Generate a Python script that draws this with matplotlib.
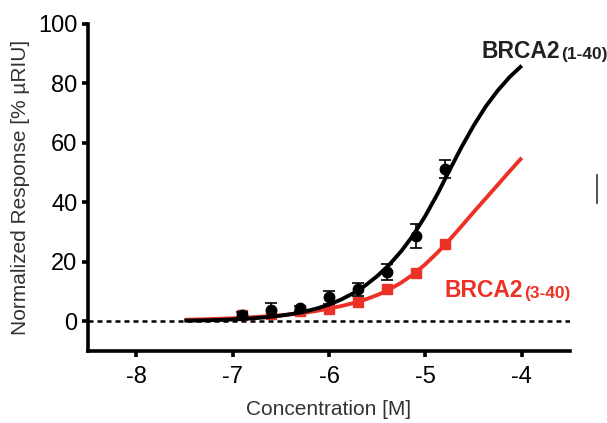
#!/usr/bin/env python3

import matplotlib
matplotlib.use("Agg")
import matplotlib.pyplot as plt
from matplotlib.lines import Line2D

plt.rcParams["font.family"] = ["Liberation Sans", "DejaVu Sans"]

# Messpunkte (log Konzentration [M])
conc = [-6.9, -6.6, -6.3, -6.0, -5.7, -5.4, -5.1, -4.8]

# BRCA2(1-40): Mittelwert und Fehler
resp_1_40 = [2.1, 3.8, 4.3, 8.0, 10.7, 16.5, 28.6, 51.3]
err_1_40 = [1.0, 2.2, 0.8, 2.2, 2.2, 2.6, 4.0, 3.0]

# BRCA2(3-40)
resp_3_40 = [2.2, 2.6, 3.4, 4.2, 6.6, 10.7, 16.1, 26.1]

# Fit-Kurven
fit_x = [-7.5, -7.375, -7.25, -7.125, -7.0, -6.875, -6.75, -6.625, -6.5,
         -6.375, -6.25, -6.125, -6.0, -5.875, -5.75, -5.625, -5.5, -5.375,
         -5.25, -5.125, -5.0, -4.875, -4.75, -4.625, -4.5, -4.375, -4.25,
         -4.125, -4.0]
fit_1_40 = [0.2, 0.26, 0.35, 0.46, 0.61, 0.82, 1.08, 1.44, 1.9,
            2.5, 3.3, 4.3, 5.6, 7.3, 9.4, 12.0, 15.2, 19.0,
            23.6, 29.0, 35.5, 42.8, 50.8, 58.6, 65.8, 72.2, 77.6,
            82.2, 86.0]
fit_3_40 = [0.5, 0.6, 0.7, 0.85, 1.0, 1.2, 1.45, 1.7, 2.0,
            2.4, 2.9, 3.5, 4.3, 5.1, 6.1, 7.3, 8.8, 10.7,
            13.0, 15.8, 19.2, 23.1, 27.4, 32.0, 36.7, 41.3, 45.9,
            50.5, 55.0]

x_ticks = [-8, -7, -6, -5, -4]
y_ticks = [0, 20, 40, 60, 80, 100]

RED = "#ec3226"
BLACK = "#000000"

fig = plt.figure(figsize=(6.07, 4.23), dpi=100)
ax = fig.add_axes([88 / 607, 72 / 423, 482 / 607, 327 / 423])

# Nulllinie
ax.axhline(0, color="black", lw=1.8, ls=(0, (2.0, 1.6)), zorder=1)

# BRCA2(3-40)
ax.plot(fit_x, fit_3_40, color=RED, lw=2.8, solid_capstyle="butt", zorder=2)
ax.plot(conc, resp_3_40, "s", color=RED, ms=6.8, zorder=3)

# BRCA2(1-40)
ax.errorbar(conc, resp_1_40, yerr=err_1_40, fmt="none", ecolor="black",
            elinewidth=1.2, capsize=4.3, capthick=1.2, zorder=4)
ax.plot(fit_x, fit_1_40, color=BLACK, lw=2.8, solid_capstyle="butt", zorder=5)
ax.plot(conc, resp_1_40, "o", color=BLACK, ms=7.5, zorder=6)

ax.set_xlim(-8.5, -3.5)
ax.set_ylim(-10, 100)
ax.set_xticks(x_ticks)
ax.set_xticklabels([str(t) for t in x_ticks])
ax.set_yticks(y_ticks)

for s in ["top", "right"]:
    ax.spines[s].set_visible(False)
for s in ["left", "bottom"]:
    ax.spines[s].set_linewidth(2.6)
ax.spines["left"].set_bounds(-10, 100)

ax.tick_params(axis="both", direction="out", length=4.5, width=2.6,
               labelsize=17, pad=3, colors="black")
ax.tick_params(axis="x", pad=6)

ax.set_xlabel("Concentration [M]", fontsize=15, color="#333333", labelpad=9)
ax.set_ylabel("Normalized Response [% µRIU]", fontsize=15, color="#333333",
              labelpad=6)


def label(x, y, main, sub, color):
    t = ax.text(x, y, main, fontsize=16.5, fontweight="bold", color=color,
                ha="left", va="baseline", zorder=7)
    fig.canvas.draw()
    bb = t.get_window_extent()
    inv = ax.transData.inverted()
    x2 = inv.transform((bb.x1 + 1, 0))[0]
    y2 = inv.transform((0, ax.transData.transform((0, y))[1] - 1))[1]
    ax.text(x2, y2, sub, fontsize=12.5, fontweight="bold", color=color,
            ha="left", va="baseline", zorder=7)


label(-4.42, 88.5, "BRCA2", "(1-40)", "#222222")
label(-4.80, 8.2, "BRCA2", "(3-40)", RED)

# kleiner Rest am rechten Bildrand
fig.add_artist(Line2D([597 / 607, 597 / 607], [1 - 175 / 423, 1 - 203 / 423],
                      transform=fig.transFigure, color="#333333", lw=1.2))

fig.savefig("out.png", dpi=100)
